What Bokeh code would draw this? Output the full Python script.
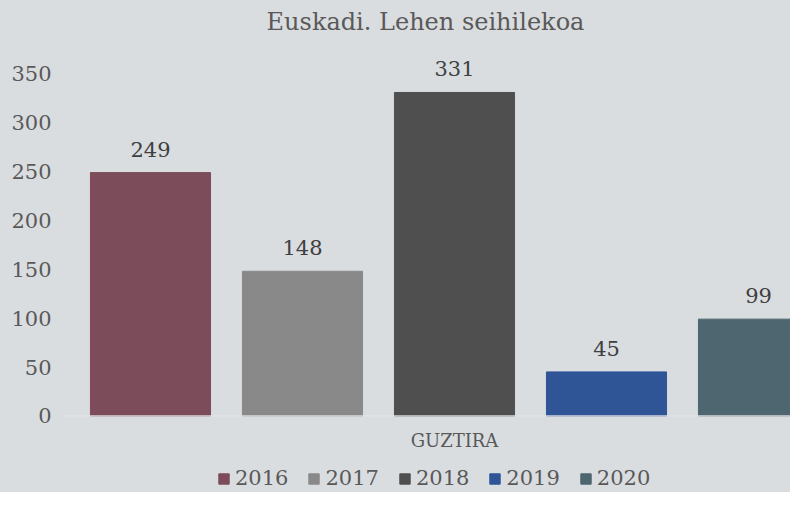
from bokeh.plotting import figure
from bokeh.models import ColumnDataSource, Legend, LegendItem, FixedTicker, Range1d, Span
from bokeh.core.properties import value
from bokeh.embed import file_html
from bokeh.resources import INLINE

title = "Euskadi. Lehen seihilekoa"
category = "GUZTIRA"
years = ["2016", "2017", "2018", "2019", "2020"]
values = [249, 148, 331, 45, 99]
colors = ["#7c4c5a", "#8a8989", "#4f4f4f", "#2f5597", "#4e6670"]
y_ticks = [0, 50, 100, 150, 200, 250, 300, 350]

FONT = "DejaVu Serif"
BG = "#dadde0"
TXT = "#595959"

xs = list(range(len(years)))
src = ColumnDataSource(dict(x=xs, top=values, color=colors, year=years,
                            label=[str(v) for v in values]))
cat_src = ColumnDataSource(dict(x=[sum(xs) / len(xs)], y=[0], text=[category]))

p = figure(width=790, height=492, output_backend="svg", toolbar_location=None,
           x_range=Range1d(-0.592, 4.2105), y_range=Range1d(-78.45, 384.2),
           min_border_left=60, min_border_right=0, min_border_top=32,
           min_border_bottom=0)
p.styles = {"background-color": BG}
p.background_fill_color = BG
p.border_fill_color = BG
p.outline_line_color = None
p.grid.visible = False

p.title.text = title
p.title.align = "center"
p.title.text_font = FONT
p.title.text_font_style = "normal"
p.title.text_font_size = "24px"
p.title.text_color = TXT

p.add_layout(Span(location=0, dimension="width", line_color="#e2e3e5", line_width=1))

bars = p.vbar(x="x", top="top", width=0.79, color="color", source=src)
p.text(x="x", y="top", text="label", source=src, text_align="center",
       text_baseline="bottom", y_offset=-16, text_font=value(FONT),
       text_font_size="21px", text_color="#404040")
p.text(x="x", y="y", text="text", source=cat_src, text_align="center",
       text_baseline="middle", y_offset=25, text_font=value(FONT),
       text_font_size="18px", text_color=TXT)

p.xaxis.visible = False
p.yaxis.ticker = FixedTicker(ticks=y_ticks)
p.yaxis.axis_line_color = None
p.yaxis.major_tick_line_color = None
p.yaxis.minor_tick_line_color = None
p.yaxis.major_tick_out = 0
p.yaxis.major_tick_in = 0
p.yaxis.major_label_text_font = FONT
p.yaxis.major_label_text_font_size = "21px"
p.yaxis.major_label_text_color = TXT
p.yaxis.major_label_standoff = 9

items = [LegendItem(label=y, renderers=[bars], index=i) for i, y in enumerate(years)]
legend = Legend(items=items, orientation="horizontal", location=(157, 2),
                background_fill_alpha=0, border_line_color=None,
                label_text_font=FONT, label_text_font_size="21px",
                label_text_color=TXT, glyph_width=13, glyph_height=13,
                label_standoff=5, spacing=19, padding=0, margin=0)
p.add_layout(legend, "center")

open("out.html", "w").write(file_html(p, INLINE))
